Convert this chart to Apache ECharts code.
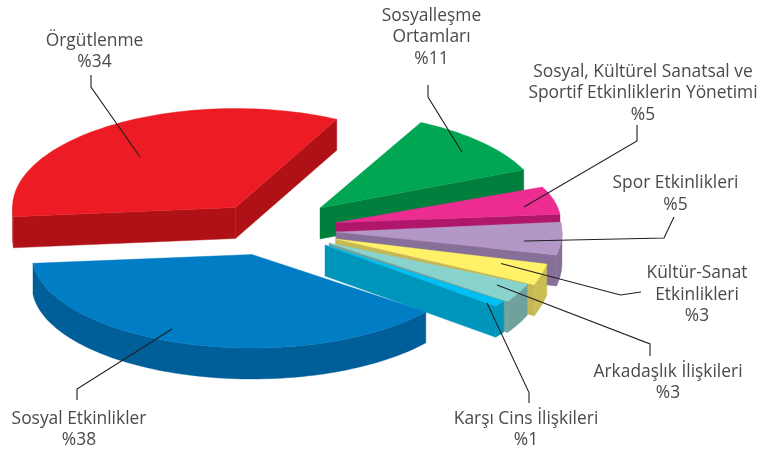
<!DOCTYPE html>
<html><head><meta charset="utf-8">
<style>html,body{margin:0;padding:0;background:#fff}#c{width:784px;height:451px}</style>
<script src="https://cdn.jsdelivr.net/npm/echarts@6/dist/echarts.min.js"></script>
</head><body><div id="c"></div>
<script>
// ---- data (clockwise from the upper right edge of the red slice) ----
var categories = [
  'Sosyalleşme\nOrtamları',
  'Sosyal, Kültürel Sanatsal ve\nSportif Etkinliklerin Yönetimi',
  'Spor Etkinlikleri',
  'Kültür-Sanat\nEtkinlikleri',
  'Arkadaşlık İlişkileri',
  'Karşı Cins İlişkileri',
  'Sosyal Etkinlikler',
  'Örgütlenme'
];
var values = [11, 5, 5, 3, 3, 1, 38, 34];

// ---- pie projection and look ----
var startAngle = -63, depth = 31;
var radiusX = [222, 225, 226, 216, 216, 216, 220, 223];
var radiusY = [96, 90, 105, 115, 104, 100, 93.5, 99];
var apexX = [320, 336, 336, 336, 329, 325, 252, 235.5];
var apexY = [208, 222.7, 232, 239, 243, 245, 254.5, 207.5];
var topColors  = ['#00A651','#EC2C91','#B297C7','#FFF168','#88D3CE','#00BFF3','#007DC5','#ED1C24'];
var sideColors = ['#007F3D','#B0166A','#867097','#C4B755','#6FA19D','#0095BB','#005E99','#B01116'];
var arcColors  = ['#007F3D','#B0166A','#867097','#CABD54','#6FA19D','#0095BB','#005E99','#B01116'];
var labelX = [431.5, 643, 675.5, 697, 668, 526, 79, 94.5];
var labelY = [37.5, 93.5, 194, 295, 382.5, 429.5, 429.5, 51.5];
var leaders = [
  [[462,152],[428,97],[428,85]],
  [[524,207],[637,141],[637,125]],
  [[524,241],[664,238],[674,217]],
  [[501,263.5],[620.5,295],[641,292]],
  [[497,285],[650,344],[650,356]],
  [[487,303],[529,392.5],[529,403]],
  [[172,329],[77,389],[77,400]],
  [[140,157],[91,87],[91,75]]
];
var total = values.reduce(function (a, b) { return a + b; }, 0);
var cumulative = [];
values.reduce(function (acc, v, i) { cumulative[i] = acc; return acc + v; }, 0);

function pt(i, deg, dy) {
  var r = deg * Math.PI / 180;
  return [apexX[i] + radiusX[i] * Math.cos(r), apexY[i] + radiusY[i] * Math.sin(r) + (dy || 0)];
}
function arc(i, a0, a1, dy) {
  var out = [], n = Math.max(2, Math.ceil(Math.abs(a1 - a0) / 1.5));
  for (var k = 0; k <= n; k++) out.push(pt(i, a0 + (a1 - a0) * k / n, dy));
  return out;
}
function poly(points, color, z) {
  return { type: 'polygon', z2: z, shape: { points: points }, style: { fill: color, stroke: color, lineWidth: 0.4 } };
}
function radialVisible(i, edge, mid) {
  var a = [apexX[i], apexY[i]], p = pt(i, edge), m = pt(i, mid);
  var lineY = a[1] + (p[1] - a[1]) * (m[0] - a[0]) / (p[0] - a[0]);
  return m[1] < lineY;
}
function renderSlice(params, api) {
  var i = params.dataIndex, v = api.value(0);
  var a0 = startAngle + cumulative[i] / total * 360;
  var a1 = a0 + v / total * 360;
  var mid = (a0 + a1) / 2, kids = [];
  var a = [apexX[i], apexY[i]], a2 = [apexX[i], apexY[i] + depth];
  [a0, a1].forEach(function (e) {
    if (radialVisible(i, e, mid)) kids.push(poly([a, pt(i, e), pt(i, e, depth), a2], sideColors[i], 1));
  });
  var w0 = Math.max(a0, 0), w1 = Math.min(a1, 180);
  if (w1 > w0) kids.push(poly(arc(i, w0, w1, 0).concat(arc(i, w1, w0, depth)), arcColors[i], 2));
  kids.push(poly([a].concat(arc(i, a0, a1, 0)), topColors[i], 3));
  return { type: 'group', children: kids };
}
function renderLabel(params, api) {
  var i = params.dataIndex, v = api.value(0);
  return { type: 'group', children: [
    { type: 'polyline', shape: { points: leaders[i] }, style: { fill: null, stroke: '#231F20', lineWidth: 1.1 } },
    { type: 'text', x: labelX[i], y: labelY[i], style: {
        text: categories[i] + '\n%' + v, fill: '#4a4a4c',
        font: '17.4px "Open Sans", sans-serif', lineHeight: 21.5,
        textAlign: 'center', textVerticalAlign: 'middle' } }
  ] };
}
var rows = values.map(function (v, i) { return { name: categories[i], value: [v] }; });
var chart = echarts.init(document.getElementById('c'), null, { renderer: 'canvas' });
chart.setOption({
  animation: false,
  backgroundColor: '#fff',
  series: [
    { type: 'custom', coordinateSystem: 'none', renderItem: renderSlice, data: rows, z: 1 },
    { type: 'custom', coordinateSystem: 'none', renderItem: renderLabel, data: rows, z: 2 }
  ]
});
</script></body></html>
